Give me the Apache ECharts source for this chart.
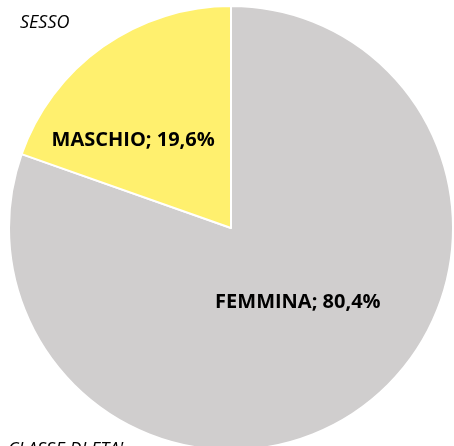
<!DOCTYPE html>
<html><head><meta charset="utf-8">
<script src="https://cdn.jsdelivr.net/npm/echarts@6/dist/echarts.min.js"></script>
<style>html,body{margin:0;padding:0;background:#fff}#c{width:454px;height:446px}</style>
</head><body><div id="c"></div>
<script>
const categories = ['FEMMINA', 'MASCHIO'];
const values = [80.4, 19.6];
const colors = ['#D0CECE', '#FFF06E'];
const labelOffsets = [[1, -19], [-32, 5]];
const titleTop = 'SESSO';
const titleBottom = "CLASSE DI ETA'";

const chart = echarts.init(document.getElementById('c'));
chart.setOption({
  animation: false,
  graphic: [
    {type: 'text', left: 20, top: 14, style: {text: titleTop, font: 'italic 18px "Open Sans", sans-serif', fill: '#000'}},
    {type: 'text', left: 8, top: 441, style: {text: titleBottom, font: 'italic 18px "Open Sans", sans-serif', fill: '#000'}}
  ],
  series: [{
    type: 'pie',
    center: [231, 228],
    radius: [0, 222],
    startAngle: 90,
    clockwise: true,
    itemStyle: {borderColor: '#fff', borderWidth: 2},
    label: {
      show: true, position: 'inside',
      formatter: p => p.name + '; ' + p.value.toFixed(1).replace('.', ',') + '%',
      color: '#000', fontWeight: 'bold', fontSize: 20, fontFamily: '"Open Sans", sans-serif'
    },
    labelLine: {show: false},
    data: categories.map((n, i) => ({
      name: n, value: values[i],
      itemStyle: {color: colors[i]},
      label: {offset: labelOffsets[i]}
    }))
  }]
});
</script></body></html>
